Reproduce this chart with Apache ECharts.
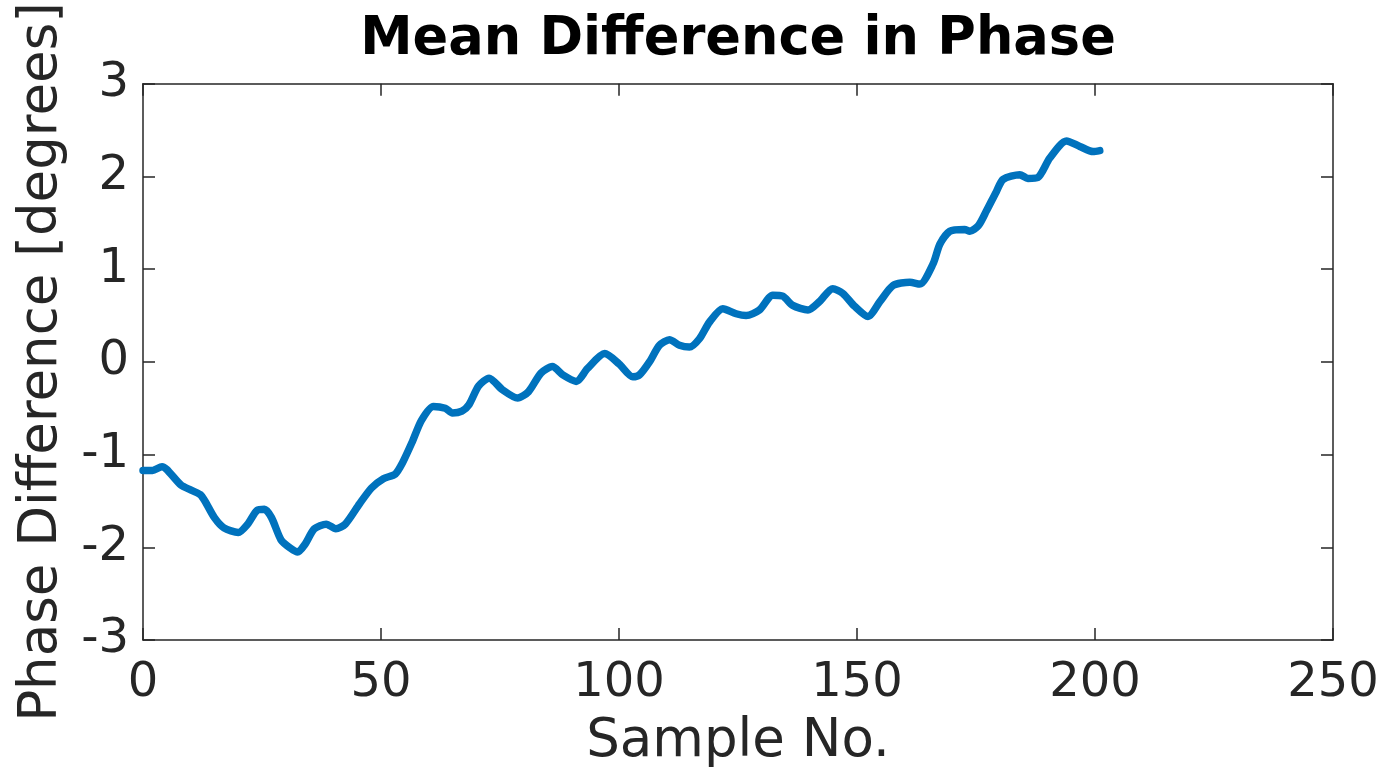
<!DOCTYPE html>
<html>
<head>
<meta charset="utf-8">
<title>Mean Difference in Phase</title>
<script src="https://cdn.jsdelivr.net/npm/echarts@6/dist/echarts.min.js"></script>
<style>
  html, body { margin: 0; padding: 0; background: #fff; }
  #chart { width: 1389px; height: 774px; }
</style>
</head>
<body>
<div id="chart"></div>
<script>
// Sample numbers and the mean phase difference (degrees) at each one
const sampleNo = [
  0, 2, 4, 5, 8, 10, 12, 13, 15, 17, 20, 22, 24, 25.5, 27, 29, 31, 32.5, 34, 36,
  38.5, 40.5, 42.5, 45.5, 48, 50.5, 53, 54.5, 56.5, 58.5, 61, 63.5, 65, 67, 68.5,
  70.5, 72.7, 75.5, 78.7, 81, 83.6, 86, 88.2, 91, 93.4, 97, 100, 102.9, 104.3,
  106.4, 108.5, 110.6, 112.7, 114.8, 116.9, 119, 121.8, 124.6, 126.7, 129.5,
  132.3, 134.4, 136.5, 139.7, 142.1, 144.9, 147, 149.5, 152.3, 154.8, 157.6,
  161.1, 163.2, 166, 167.4, 169.5, 172.6, 173.7, 175.5, 177.2, 179.3, 180.7,
  184.2, 185.9, 188, 190.5, 194, 196.8, 199.6, 201
];
const phaseDiff = [
  -1.17, -1.17, -1.13, -1.16, -1.33, -1.38, -1.43, -1.50, -1.68, -1.79, -1.84, -1.75,
  -1.60, -1.59, -1.68, -1.92, -2.01, -2.05, -1.97, -1.80, -1.75, -1.80, -1.75, -1.53,
  -1.36, -1.26, -1.21, -1.09, -0.87, -0.63, -0.48, -0.50, -0.55, -0.53, -0.46,
  -0.26, -0.175, -0.30, -0.39, -0.32, -0.12, -0.05, -0.14, -0.21, -0.07, 0.09, -0.02,
  -0.16, -0.14, 0.00, 0.18, 0.24, 0.18, 0.16, 0.25, 0.43, 0.575, 0.52, 0.50, 0.56,
  0.72, 0.71, 0.61, 0.56, 0.65, 0.79, 0.74, 0.60, 0.49, 0.65, 0.825, 0.86, 0.84,
  1.06, 1.27, 1.41, 1.43, 1.41, 1.47, 1.63, 1.84, 1.97, 2.02, 1.98, 1.99, 2.20,
  2.385, 2.325, 2.27, 2.28
];
const xTicks = [0, 50, 100, 150, 200, 250];
const yTicks = [-3, -2, -1, 0, 1, 2, 3];

const FONT = 'DejaVu Sans';
const INK = '#262626';

const points = sampleNo.map((n, i) => [n, phaseDiff[i]]);

// Shared look for the four sides of the box: dark frame, inward ticks
const frameAxis = {
  axisLine: { show: true, onZero: false, lineStyle: { color: INK, width: 1.5 } },
  axisTick: { show: true, inside: true, length: 12, lineStyle: { color: INK, width: 1.5 } },
  splitLine: { show: false }
};

const chart = echarts.init(document.getElementById('chart'), null, { renderer: 'canvas' });
chart.setOption({
  backgroundColor: '#ffffff',
  animation: false,
  title: {
    text: 'Mean Difference in Phase',
    left: 733, top: 9, textAlign: 'center',
    textStyle: { fontFamily: FONT, fontWeight: 'bold', fontSize: 52.6, color: '#000' }
  },
  grid: { left: 143, right: 56, top: 82, bottom: 132 },
  xAxis: [
    Object.assign({
      type: 'value', position: 'bottom', min: 0, max: 250, interval: 50,
      name: 'Sample No.', nameLocation: 'middle', nameGap: 76,
      nameTextStyle: { fontFamily: FONT, fontSize: 53, color: INK },
      axisLabel: {
        margin: 20, fontFamily: FONT, fontSize: 48, color: INK,
        customValues: xTicks
      }
    }, frameAxis),
    Object.assign({
      type: 'value', position: 'top', min: 0, max: 250, interval: 50,
      axisLabel: { show: false }
    }, frameAxis)
  ],
  yAxis: [
    Object.assign({
      type: 'value', position: 'left', min: -3, max: 3, interval: 1,
      name: 'Phase Difference [degrees]', nameLocation: 'middle', nameGap: 74,
      nameTextStyle: { fontFamily: FONT, fontSize: 53, color: INK },
      axisLabel: {
        margin: 14, fontFamily: FONT, fontSize: 48, color: INK,
        customValues: yTicks
      }
    }, frameAxis),
    Object.assign({
      type: 'value', position: 'right', min: -3, max: 3, interval: 1,
      axisLabel: { show: false }
    }, frameAxis)
  ],
  series: [{
    type: 'line',
    data: points,
    xAxisIndex: 0, yAxisIndex: 0,
    showSymbol: false,
    smooth: 0.25,
    lineStyle: { color: '#0072BD', width: 7.5, cap: 'round', join: 'round' }
  }]
});
</script>
</body>
</html>
